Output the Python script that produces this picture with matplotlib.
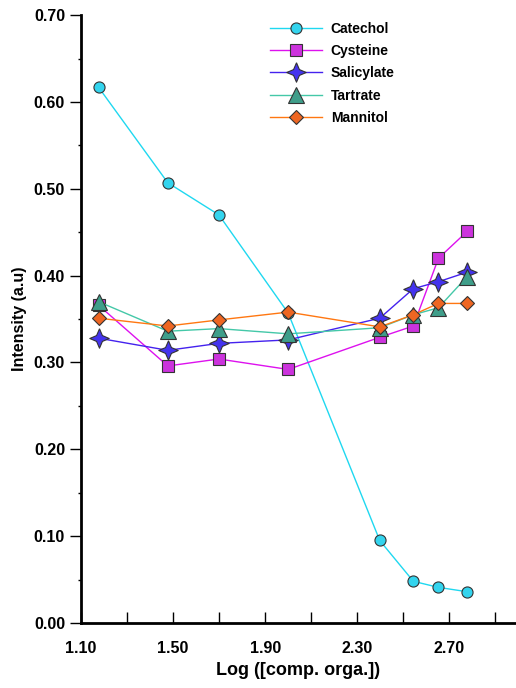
import numpy as np
import matplotlib
matplotlib.use("Agg")
from matplotlib import pyplot as plt

plt.rcParams['font.family'] = ['Liberation Sans', 'DejaVu Sans']
plt.rcParams['font.weight'] = 'bold'

# log of organic compound concentration
log_conc = [1.176, 1.477, 1.699, 2.000, 2.398, 2.544, 2.653, 2.778]

catechol = [0.617, 0.507, 0.470, 0.357, 0.095, 0.048, 0.041, 0.036]
cysteine = [0.366, 0.296, 0.304, 0.292, 0.329, 0.342, 0.420, 0.451]
salicylate = [0.328, 0.314, 0.322, 0.326, 0.351, 0.385, 0.393, 0.404]
tartrate = [0.370, 0.336, 0.339, 0.333, 0.340, 0.355, 0.363, 0.399]
mannitol = [0.351, 0.342, 0.349, 0.358, 0.341, 0.355, 0.368, 0.368]

x_ticks = [1.10, 1.30, 1.50, 1.70, 1.90, 2.10, 2.30, 2.50, 2.70, 2.90]
x_labels = ['1.10', '', '1.50', '', '1.90', '', '2.30', '', '2.70', '']
y_ticks = [0.0, 0.1, 0.2, 0.3, 0.4, 0.5, 0.6, 0.7]

star4 = [(0, 1), (0.3, 0.3), (1, 0), (0.3, -0.3), (0, -1),
         (-0.3, -0.3), (-1, 0), (-0.3, 0.3), (0, 1)]

series = [
    ("Catechol", catechol, '#1fd8f0', '#33d4ee', 'o', 8),
    ("Cysteine", cysteine, '#dd11ee', '#cc33dd', 's', 8),
    ("Salicylate", salicylate, '#4422ee', '#4433ee', star4, 14),
    ("Tartrate", tartrate, '#44c8a8', '#3f9e8a', '^', 11),
    ("Mannitol", mannitol, '#ff7711', '#ee6622', 'D', 7),
]

fig = plt.figure(figsize=(5.16, 6.88), dpi=100)
ax = fig.add_axes([0.157, 0.0945, 0.843, 0.8835])

for name, vals, lc, fc, mk, ms in series:
    ax.plot(log_conc, vals, color=lc, lw=1.0, marker=mk, ms=ms,
            markerfacecolor=fc, markeredgecolor='#333333', markeredgewidth=0.8,
            label=name)

ax.set_xlim(1.10, 2.99)
ax.set_ylim(0, 0.70)
ax.set_xticks(x_ticks)
ax.set_xticklabels(x_labels)
ax.set_yticks(y_ticks)
ax.set_yticklabels(['%.2f' % v for v in y_ticks])
ax.set_yticks(np.arange(0.05, 0.70, 0.1), minor=True)

ax.spines['top'].set_visible(False)
ax.spines['right'].set_visible(False)
ax.spines['left'].set_linewidth(2)
ax.spines['bottom'].set_linewidth(2)
ax.tick_params(axis='x', direction='in', length=8, width=1, labelsize=11.5, pad=13)
ax.tick_params(axis='y', direction='out', length=8, width=1, labelsize=11.5)
ax.tick_params(axis='y', which='minor', length=2, width=1)

ax.set_xlabel('Log ([comp. orga.])', fontsize=13, fontweight='bold', labelpad=4)
ax.set_ylabel('Intensity (a.u)', fontsize=11.5, fontweight='bold', labelpad=5)

ax.legend(loc='upper left', bbox_to_anchor=(0.405, 1.01), frameon=False,
          handlelength=3.8, labelspacing=0.6, handletextpad=0.6,
          prop={'weight': 'bold', 'size': 10})

fig.savefig('out.png', dpi=100)
